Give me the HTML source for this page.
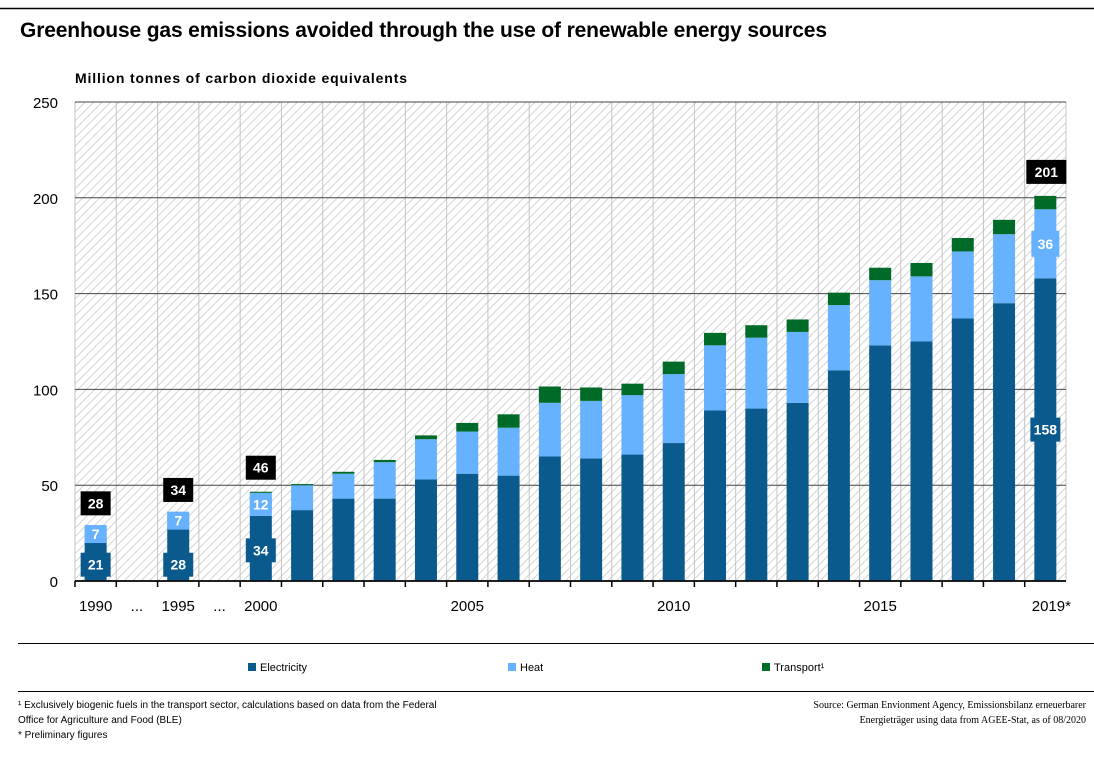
<!DOCTYPE html>
<html><head><meta charset="utf-8">
<style>
body{margin:0;background:#fff;font-family:"Liberation Sans","DejaVu Sans",sans-serif;}
svg text{font-family:"Liberation Sans","DejaVu Sans",sans-serif;}
</style></head>
<body>
<svg id="c" width="1094" height="752" xmlns="http://www.w3.org/2000/svg">
<defs>
<pattern id="hatch" width="6" height="6" patternUnits="userSpaceOnUse" patternTransform="rotate(45)">
<rect width="6" height="6" fill="#fff"/>
<line x1="0" y1="0" x2="0" y2="6" stroke="#cfcfcf" stroke-width="1.8"/>
</pattern>
</defs>
<line x1="0" y1="8.5" x2="1094" y2="8.5" stroke="#000" stroke-width="1.5"/>
<text x="20" y="37" font-size="21" font-weight="bold" textLength="807">Greenhouse gas emissions avoided through the use of renewable energy sources</text>
<text x="75" y="83" font-size="14" font-weight="bold" textLength="332">Million tonnes of carbon dioxide equivalents</text>
<g id="plot"></g>
<line x1="18" y1="643.5" x2="1094" y2="643.5" stroke="#000"/>
<g><rect x="248" y="663" width="8" height="8" fill="#0b5a8e"/><text x="260" y="671" font-size="11">Electricity</text></g>
<g><rect x="508" y="663" width="8" height="8" fill="#66b2ff"/><text x="520" y="671" font-size="11">Heat</text></g>
<g><rect x="762" y="663" width="8" height="8" fill="#006a28"/><text x="774" y="671" font-size="11">Transport¹</text></g>
<line x1="18" y1="691.5" x2="1094" y2="691.5" stroke="#000"/>
<g font-size="10">
<text x="18" y="708">¹ Exclusively biogenic fuels in the transport sector, calculations based on data from the Federal</text>
<text x="18" y="723">Office for Agriculture and Food (BLE)</text>
<text x="18" y="738">* Preliminary figures</text>
</g>
<g font-size="10" text-anchor="end">
<text x="1086" y="708" style="font-family:'Liberation Serif',serif">Source: German Envionment Agency, Emissionsbilanz erneuerbarer</text>
<text x="1086" y="723" style="font-family:'Liberation Serif',serif">Energieträger using data from AGEE-Stat, as of 08/2020</text>
</g>
</svg>
<script>
const categories=["1990","...","1995","...","2000","2001","2002","2003","2004","2005","2006","2007","2008","2009","2010","2011","2012","2013","2014","2015","2016","2017","2018","2019*"];
const electricity=[21,null,28,null,34,37,43,43,53,56,55,65,64,66,72,89,90,93,110,123,125,137,145,158];
const heat=[7,null,7,null,12,13,13,19,21,22,25,28,30,31,36,34,37,37,34,34,34,35,36,36];
const transport=[0,null,0,null,0.6,0.6,1,1.2,2,4.5,7,8.5,7,6,6.5,6.5,6.5,6.5,6.5,6.5,7,7,7.5,7];
const totalLabels=[28,null,34,null,46,null,null,null,null,null,null,null,null,null,null,null,null,null,null,null,null,null,null,201];
const showSeg=[true,false,true,false,true,false,false,false,false,false,false,false,false,false,false,false,false,false,false,false,false,false,false,true];
const yTicks=[0,50,100,150,200,250];
const xLabelShown=["1990","...","1995","...","2000","","","","","2005","","","","","2010","","","","","2015","","","","2019*"];

const NS="http://www.w3.org/2000/svg";
const L=75,R=1066,T=102,B=581,yMax=250;
const slot=(R-L)/categories.length;
const y=v=>B-(v/yMax)*(B-T);
const xc=i=>L+slot*(i+0.5);
const g=document.getElementById('plot');
function mk(tag,attrs,parent){const e=document.createElementNS(NS,tag);for(const k in attrs)e.setAttribute(k,attrs[k]);(parent||g).appendChild(e);return e;}

let bg=mk('rect',{x:L,y:T,width:R-L,height:B-T,fill:'url(#hatch)'});


for(let i=0;i<=categories.length;i++){
  let l=mk('line',{x1:L+slot*i,x2:L+slot*i,y1:T,y2:B,stroke:'#c4c4c4','stroke-width':1});
  
  
}
yTicks.forEach(t=>{
  let l=mk('line',{x1:L,x2:R,y1:y(t),y2:y(t),stroke:t===0?'#000':'#444','stroke-width':t===0?1.5:1});
  
  
  let tx=mk('text',{x:58,y:y(t)+6,'font-size':15,'text-anchor':'end'});
  tx.textContent=t;
  
  
});
const bw=22;
function box(cx,cy,txt,fill,w,h){
  let r=mk('rect',{x:cx-w/2,y:cy-h/2,width:w,height:h,fill:fill});
  
  
  let t=mk('text',{x:cx,y:cy+5,'font-size':14,'font-weight':'bold',fill:'#fff','text-anchor':'middle'});
  t.textContent=txt;
  
  
}
categories.forEach((c,i)=>{
  let tk=mk('line',{x1:L+slot*i,x2:L+slot*i,y1:B,y2:B+6,stroke:'#000','stroke-width':1.5});
  
  
  if(xLabelShown[i]){
    let t=mk('text',{x:xc(i)+(i===23?6:0),y:B+30,'font-size':15,'text-anchor':'middle'});
    t.textContent=xLabelShown[i];
    
    
  }
  if(electricity[i]==null) return;
  const e=electricity[i],h=heat[i],tr=transport[i];
  const x=xc(i)-bw/2;
  let r1=mk('rect',{x:x,y:y(e),width:bw,height:y(0)-y(e),fill:'#0b5a8e'});
  
  
  let r2=mk('rect',{x:x,y:y(e+h),width:bw,height:y(e)-y(e+h),fill:'#66b2ff'});
  
  
  let r3=mk('rect',{x:x,y:y(e+h+tr),width:bw,height:y(e+h)-y(e+h+tr),fill:'#006a28'});
  
  
  if(showSeg[i]){
    const ey = i===23 ? y(e*0.5) : (i===4 ? y(16) : y(8.5));
    box(xc(i),ey,String(e),'#0b5a8e',30,24);
    box(xc(i),(y(e)+y(e+h))/2,String(h),'#66b2ff',i===23?28:22,i===23?26:18);
  }
  if(totalLabels[i]!=null){
    const tot=e+h+tr;
    box(xc(i)+(i===23?1:0),y(tot)-24,String(totalLabels[i]),'#000',i===23?40:30,24);
  }
});
let ax=mk('line',{x1:L,x2:R,y1:B,y2:B,stroke:'#000','stroke-width':1.5});


</script>
</body></html>
